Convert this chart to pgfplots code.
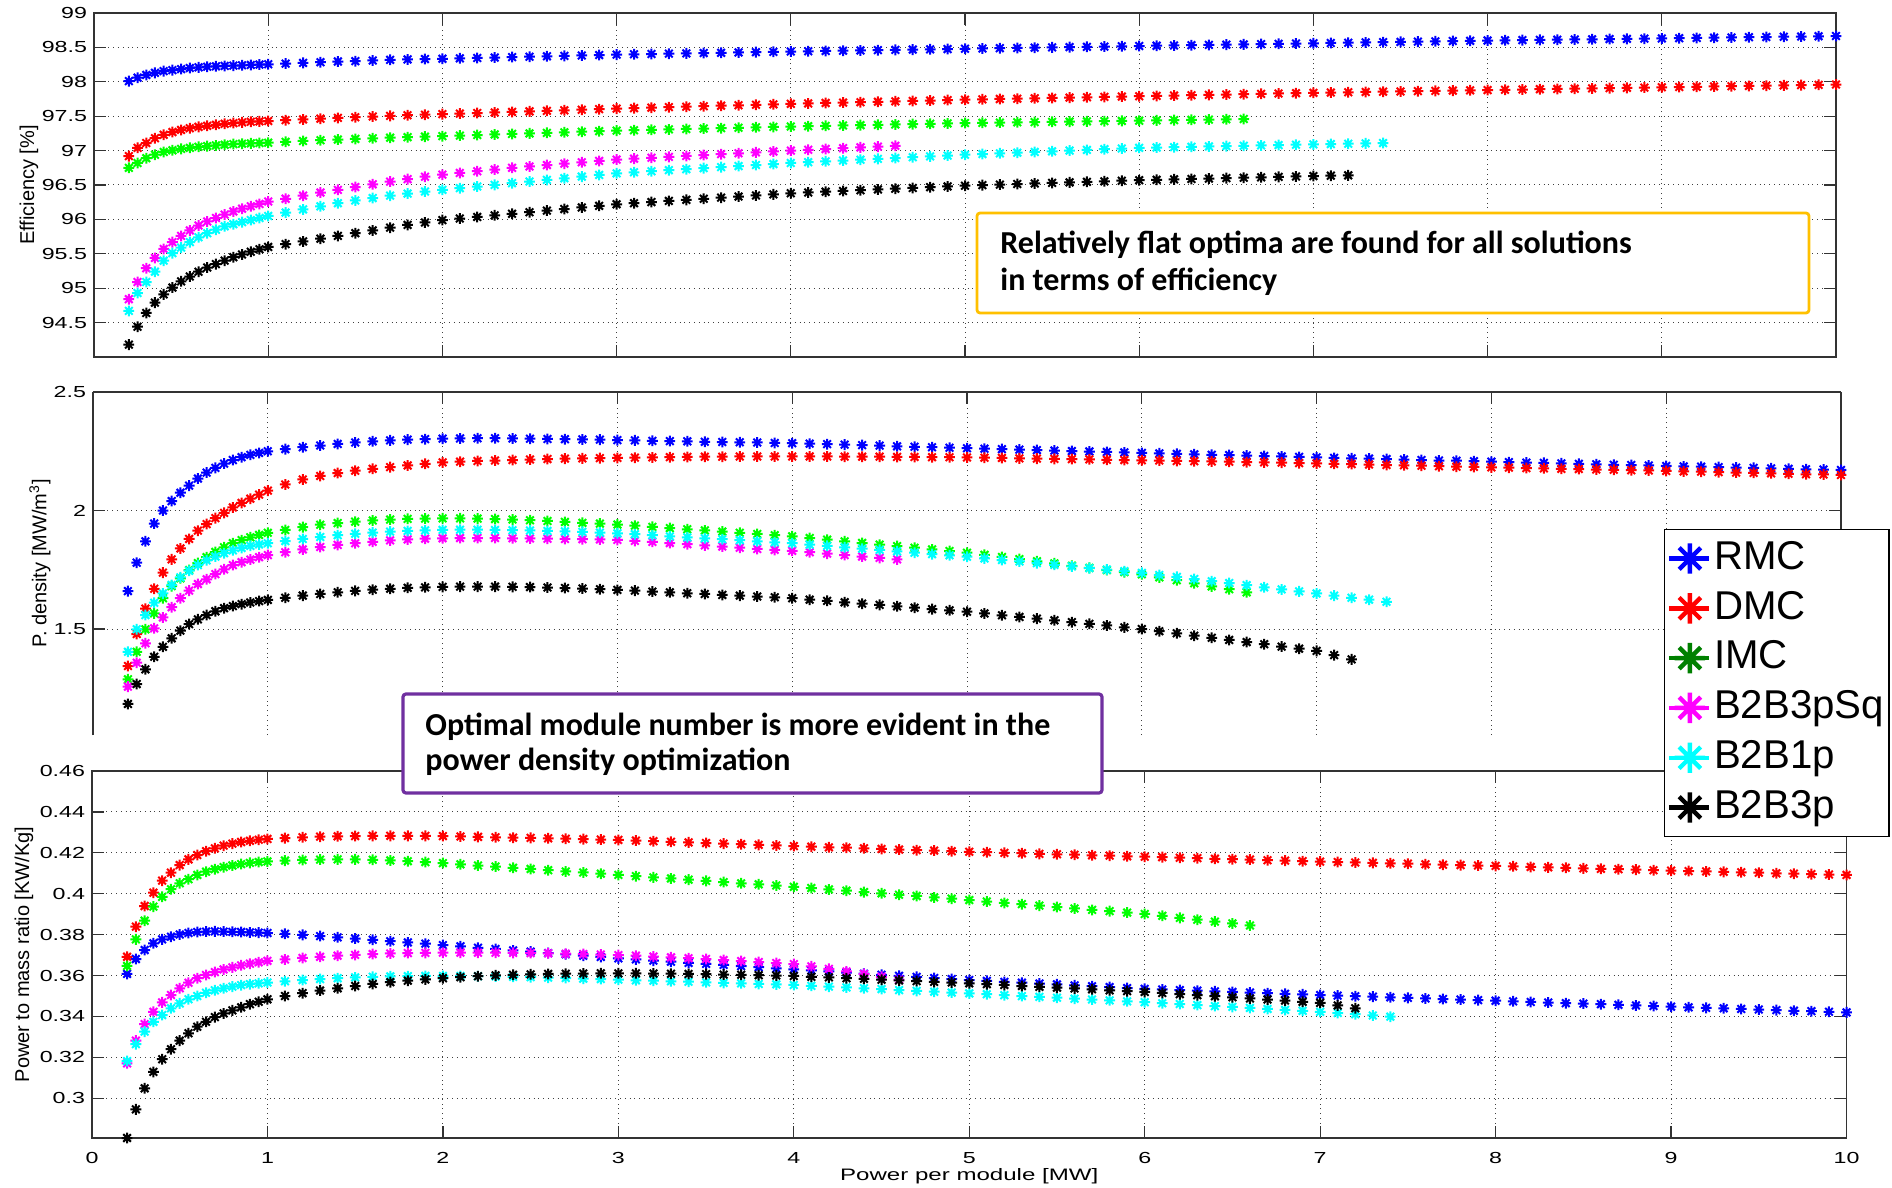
\documentclass[border=0pt]{standalone}
\usepackage{fontspec}
\setmainfont{Liberation Sans}
\newfontfamily\tickfont[FakeStretch=1.45]{Liberation Sans}
\newfontfamily\annfont{Carlito}
\usepackage{pgfplots}
\usepackage{pgfplotstable}
\pgfplotsset{compat=1.18}

\definecolor{annY}{RGB}{255,192,0}
\definecolor{annP}{RGB}{112,48,160}
\definecolor{dkgreen}{RGB}{0,128,0}
\definecolor{mblue}{RGB}{0,0,255}
\definecolor{mred}{RGB}{255,0,0}
\definecolor{mgreen}{RGB}{0,255,0}
\definecolor{mmag}{RGB}{255,0,255}
\definecolor{mcyan}{RGB}{0,255,255}

\pgfdeclareplotmark{ast8}{%
  \pgfpathmoveto{\pgfqpoint{0pt}{\pgfplotmarksize}}%
  \pgfpathlineto{\pgfqpoint{0pt}{-\pgfplotmarksize}}%
  \pgfpathmoveto{\pgfqpoint{\pgfplotmarksize}{0pt}}%
  \pgfpathlineto{\pgfqpoint{-\pgfplotmarksize}{0pt}}%
  \pgfpathmoveto{\pgfqpoint{0.707\pgfplotmarksize}{0.707\pgfplotmarksize}}%
  \pgfpathlineto{\pgfqpoint{-0.707\pgfplotmarksize}{-0.707\pgfplotmarksize}}%
  \pgfpathmoveto{\pgfqpoint{-0.707\pgfplotmarksize}{0.707\pgfplotmarksize}}%
  \pgfpathlineto{\pgfqpoint{0.707\pgfplotmarksize}{-0.707\pgfplotmarksize}}%
  \pgfusepathqstroke}

\pgfplotstableread{
x R D I S C K
0.20 98.010 96.920 96.750 94.840 94.670 94.180
0.25 98.060 97.040 96.820 95.090 94.930 94.440
0.30 98.100 97.110 96.890 95.290 95.090 94.640
0.35 98.130 97.180 96.940 95.440 95.240 94.790
0.40 98.155 97.230 96.980 95.570 95.400 94.910
0.45 98.170 97.270 97.005 95.670 95.510 95.010
0.50 98.185 97.300 97.025 95.760 95.590 95.100
0.55 98.200 97.325 97.040 95.840 95.670 95.170
0.60 98.210 97.345 97.055 95.910 95.740 95.240
0.65 98.220 97.360 97.065 95.970 95.800 95.300
0.70 98.225 97.375 97.075 96.020 95.850 95.350
0.75 98.230 97.390 97.085 96.070 95.900 95.400
0.80 98.235 97.400 97.095 96.115 95.930 95.450
0.85 98.240 97.410 97.100 96.155 95.960 95.490
0.90 98.245 97.420 97.105 96.190 95.990 95.530
0.95 98.250 97.425 97.110 96.225 96.020 95.565
1.00 98.255 97.430 97.115 96.260 96.050 95.600
1.1 98.265 97.442 97.128 96.300 96.100 95.640
1.2 98.275 97.453 97.140 96.345 96.145 95.680
1.3 98.285 97.464 97.151 96.390 96.190 95.720
1.4 98.295 97.475 97.161 96.430 96.235 95.760
1.5 98.300 97.485 97.170 96.470 96.275 95.800
1.6 98.310 97.495 97.179 96.510 96.310 95.840
1.7 98.320 97.505 97.187 96.550 96.345 95.880
1.8 98.325 97.514 97.195 96.585 96.375 95.920
1.9 98.330 97.522 97.203 96.620 96.405 95.955
2.0 98.335 97.530 97.210 96.650 96.430 95.990
2.1 98.341 97.538 97.218 96.675 96.454 96.013
2.2 98.347 97.546 97.226 96.700 96.478 96.036
2.3 98.353 97.554 97.234 96.725 96.502 96.059
2.4 98.359 97.562 97.242 96.750 96.526 96.082
2.5 98.365 97.570 97.250 96.770 96.550 96.105
2.6 98.371 97.578 97.258 96.790 96.574 96.128
2.7 98.377 97.586 97.266 96.810 96.598 96.151
2.8 98.383 97.594 97.274 96.830 96.622 96.174
2.9 98.389 97.602 97.282 96.850 96.646 96.197
3.0 98.395 97.610 97.290 96.870 96.670 96.220
3.1 98.400 97.617 97.296 96.883 96.685 96.236
3.2 98.404 97.624 97.302 96.896 96.700 96.252
3.3 98.409 97.631 97.308 96.909 96.715 96.268
3.4 98.413 97.638 97.314 96.922 96.730 96.284
3.5 98.418 97.645 97.320 96.935 96.745 96.300
3.6 98.422 97.652 97.326 96.948 96.760 96.316
3.7 98.427 97.659 97.332 96.961 96.775 96.332
3.8 98.431 97.666 97.338 96.974 96.790 96.348
3.9 98.436 97.673 97.344 96.987 96.805 96.364
4.0 98.440 97.680 97.350 97.000 96.820 96.380
4.1 98.444 97.686 97.355 97.012 96.832 96.391
4.2 98.448 97.692 97.360 97.023 96.844 96.402
4.3 98.452 97.698 97.365 97.035 96.856 96.413
4.4 98.456 97.704 97.370 97.047 96.868 96.424
4.5 98.460 97.710 97.375 97.058 96.880 96.435
4.6 98.464 97.716 97.380 97.070 96.892 96.446
4.7 98.468 97.722 97.385 nan 96.904 96.457
4.8 98.472 97.728 97.390 nan 96.916 96.468
4.9 98.476 97.734 97.395 nan 96.928 96.479
5.0 98.480 97.740 97.400 nan 96.940 96.490
5.1 98.484 97.745 97.404 nan 96.950 96.498
5.2 98.488 97.750 97.407 nan 96.960 96.506
5.3 98.492 97.755 97.411 nan 96.970 96.514
5.4 98.496 97.760 97.414 nan 96.980 96.522
5.5 98.500 97.765 97.418 nan 96.990 96.530
5.6 98.504 97.770 97.421 nan 97.000 96.538
5.7 98.508 97.775 97.425 nan 97.010 96.546
5.8 98.512 97.780 97.428 nan 97.020 96.554
5.9 98.516 97.785 97.432 nan 97.030 96.562
6.0 98.520 97.790 97.435 nan 97.040 96.570
6.1 98.524 97.795 97.439 nan 97.045 96.576
6.2 98.528 97.800 97.443 nan 97.050 96.582
6.3 98.532 97.805 97.447 nan 97.055 96.588
6.4 98.536 97.810 97.451 nan 97.060 96.594
6.5 98.540 97.815 97.455 nan 97.065 96.600
6.6 98.544 97.820 97.459 nan 97.070 96.606
6.7 98.548 97.825 nan nan 97.075 96.612
6.8 98.552 97.830 nan nan 97.080 96.618
6.9 98.556 97.835 nan nan 97.085 96.624
7.0 98.560 97.840 nan nan 97.090 96.630
7.1 98.564 97.844 nan nan 97.095 96.635
7.2 98.568 97.848 nan nan 97.100 96.640
7.3 98.572 97.852 nan nan 97.105 nan
7.4 98.576 97.856 nan nan 97.110 nan
7.5 98.580 97.860 nan nan nan nan
7.6 98.584 97.864 nan nan nan nan
7.7 98.588 97.868 nan nan nan nan
7.8 98.592 97.872 nan nan nan nan
7.9 98.596 97.876 nan nan nan nan
8.0 98.600 97.880 nan nan nan nan
8.1 98.603 97.884 nan nan nan nan
8.2 98.606 97.888 nan nan nan nan
8.3 98.609 97.892 nan nan nan nan
8.4 98.612 97.896 nan nan nan nan
8.5 98.615 97.900 nan nan nan nan
8.6 98.618 97.904 nan nan nan nan
8.7 98.621 97.908 nan nan nan nan
8.8 98.624 97.912 nan nan nan nan
8.9 98.627 97.916 nan nan nan nan
9.0 98.630 97.920 nan nan nan nan
9.1 98.634 97.924 nan nan nan nan
9.2 98.637 97.928 nan nan nan nan
9.3 98.641 97.932 nan nan nan nan
9.4 98.644 97.936 nan nan nan nan
9.5 98.648 97.940 nan nan nan nan
9.6 98.651 97.944 nan nan nan nan
9.7 98.655 97.948 nan nan nan nan
9.8 98.658 97.952 nan nan nan nan
9.9 98.662 97.956 nan nan nan nan
10.0 98.665 97.960 nan nan nan nan
}\teff

\pgfplotstableread{
x R D I S C K
0.20 1.660 1.344 1.288 1.257 1.404 1.184
0.25 1.780 1.479 1.404 1.358 1.499 1.268
0.30 1.870 1.586 1.499 1.440 1.559 1.330
0.35 1.945 1.670 1.566 1.503 1.611 1.383
0.40 2.000 1.738 1.630 1.549 1.650 1.425
0.45 2.040 1.794 1.681 1.592 1.686 1.461
0.50 2.075 1.840 1.714 1.630 1.718 1.493
0.55 2.105 1.880 1.749 1.662 1.746 1.521
0.60 2.135 1.915 1.778 1.690 1.770 1.541
0.65 2.160 1.943 1.803 1.710 1.790 1.559
0.70 2.180 1.968 1.825 1.732 1.806 1.575
0.75 2.198 1.990 1.845 1.752 1.820 1.588
0.80 2.213 2.013 1.862 1.770 1.832 1.597
0.85 2.225 2.032 1.875 1.782 1.842 1.605
0.90 2.235 2.050 1.887 1.793 1.851 1.612
0.95 2.243 2.067 1.897 1.803 1.857 1.618
1.00 2.250 2.084 1.906 1.812 1.862 1.623
1.1 2.259 2.110 1.918 1.824 1.871 1.632
1.2 2.267 2.131 1.930 1.836 1.880 1.641
1.3 2.274 2.146 1.940 1.846 1.888 1.648
1.4 2.281 2.158 1.947 1.855 1.896 1.655
1.5 2.287 2.168 1.953 1.862 1.902 1.661
1.6 2.292 2.176 1.958 1.868 1.907 1.666
1.7 2.296 2.183 1.962 1.874 1.911 1.670
1.8 2.299 2.190 1.965 1.878 1.914 1.674
1.9 2.301 2.197 1.966 1.881 1.916 1.676
2.0 2.303 2.203 1.967 1.883 1.918 1.678
2.1 2.304 2.206 1.967 1.884 1.919 1.679
2.2 2.305 2.209 1.966 1.884 1.919 1.679
2.3 2.305 2.211 1.964 1.884 1.918 1.679
2.4 2.304 2.213 1.962 1.883 1.917 1.678
2.5 2.303 2.215 1.959 1.882 1.916 1.677
2.6 2.302 2.217 1.956 1.881 1.914 1.675
2.7 2.301 2.219 1.952 1.880 1.912 1.673
2.8 2.300 2.220 1.948 1.879 1.910 1.671
2.9 2.299 2.221 1.945 1.878 1.907 1.668
3.0 2.297 2.222 1.941 1.876 1.904 1.665
3.1 2.296 2.223 1.936 1.872 1.900 1.662
3.2 2.294 2.224 1.931 1.868 1.896 1.658
3.3 2.293 2.225 1.926 1.863 1.891 1.655
3.4 2.292 2.226 1.921 1.858 1.887 1.651
3.5 2.290 2.227 1.916 1.853 1.883 1.648
3.6 2.289 2.227 1.911 1.848 1.879 1.644
3.7 2.288 2.228 1.906 1.843 1.875 1.641
3.8 2.287 2.228 1.901 1.838 1.870 1.637
3.9 2.285 2.228 1.896 1.834 1.866 1.634
4.0 2.284 2.228 1.891 1.830 1.862 1.630
4.1 2.282 2.228 1.884 1.824 1.856 1.624
4.2 2.280 2.228 1.877 1.818 1.851 1.619
4.3 2.278 2.227 1.870 1.812 1.845 1.613
4.4 2.276 2.227 1.863 1.806 1.839 1.607
4.5 2.274 2.227 1.856 1.800 1.834 1.602
4.6 2.271 2.226 1.850 1.794 1.828 1.596
4.7 2.269 2.226 1.843 nan 1.822 1.590
4.8 2.267 2.225 1.836 nan 1.816 1.584
4.9 2.265 2.225 1.829 nan 1.811 1.579
5.0 2.263 2.224 1.822 nan 1.805 1.573
5.1 2.261 2.223 1.813 nan 1.798 1.566
5.2 2.259 2.222 1.804 nan 1.791 1.558
5.3 2.257 2.220 1.795 nan 1.785 1.551
5.4 2.255 2.219 1.786 nan 1.778 1.544
5.5 2.253 2.218 1.777 nan 1.771 1.537
5.6 2.251 2.217 1.767 nan 1.764 1.529
5.7 2.249 2.216 1.758 nan 1.757 1.522
5.8 2.247 2.214 1.749 nan 1.751 1.515
5.9 2.245 2.213 1.740 nan 1.744 1.507
6.0 2.243 2.212 1.731 nan 1.737 1.500
6.1 2.241 2.211 1.718 nan 1.728 1.491
6.2 2.239 2.209 1.706 nan 1.720 1.482
6.3 2.237 2.208 1.693 nan 1.711 1.472
6.4 2.235 2.207 1.680 nan 1.702 1.463
6.5 2.234 2.206 1.668 nan 1.694 1.454
6.6 2.232 2.204 1.655 nan 1.685 1.445
6.7 2.230 2.203 nan nan 1.676 1.436
6.8 2.228 2.202 nan nan 1.667 1.426
6.9 2.226 2.200 nan nan 1.659 1.417
7.0 2.224 2.199 nan nan 1.650 1.408
7.1 2.222 2.197 nan nan 1.641 1.390
7.2 2.220 2.196 nan nan 1.632 1.372
7.3 2.219 2.194 nan nan 1.624 nan
7.4 2.217 2.192 nan nan 1.615 nan
7.5 2.215 2.191 nan nan nan nan
7.6 2.213 2.189 nan nan nan nan
7.7 2.211 2.187 nan nan nan nan
7.8 2.210 2.185 nan nan nan nan
7.9 2.208 2.184 nan nan nan nan
8.0 2.206 2.182 nan nan nan nan
8.1 2.204 2.181 nan nan nan nan
8.2 2.202 2.179 nan nan nan nan
8.3 2.201 2.178 nan nan nan nan
8.4 2.199 2.176 nan nan nan nan
8.5 2.197 2.175 nan nan nan nan
8.6 2.195 2.173 nan nan nan nan
8.7 2.193 2.172 nan nan nan nan
8.8 2.192 2.170 nan nan nan nan
8.9 2.190 2.169 nan nan nan nan
9.0 2.188 2.167 nan nan nan nan
9.1 2.186 2.165 nan nan nan nan
9.2 2.185 2.164 nan nan nan nan
9.3 2.183 2.162 nan nan nan nan
9.4 2.181 2.160 nan nan nan nan
9.5 2.180 2.159 nan nan nan nan
9.6 2.178 2.157 nan nan nan nan
9.7 2.176 2.155 nan nan nan nan
9.8 2.174 2.153 nan nan nan nan
9.9 2.173 2.152 nan nan nan nan
10.0 2.171 2.150 nan nan nan nan
}\tpd

\pgfplotstableread{
x R D I S C K
0.20 0.3608 0.3692 0.3647 0.3171 0.3182 0.2806
0.25 0.3681 0.3839 0.3777 0.3282 0.3265 0.2946
0.30 0.3725 0.3940 0.3868 0.3363 0.3326 0.3049
0.35 0.3758 0.4005 0.3937 0.3423 0.3374 0.3129
0.40 0.3777 0.4064 0.3985 0.3469 0.3407 0.3191
0.45 0.3790 0.4103 0.4022 0.3505 0.3440 0.3240
0.50 0.3801 0.4140 0.4051 0.3538 0.3464 0.3282
0.55 0.3808 0.4168 0.4071 0.3565 0.3484 0.3318
0.60 0.3813 0.4189 0.4092 0.3587 0.3500 0.3350
0.65 0.3815 0.4208 0.4108 0.3603 0.3516 0.3374
0.70 0.3816 0.4222 0.4120 0.3617 0.3528 0.3397
0.75 0.3815 0.4235 0.4130 0.3630 0.3538 0.3415
0.80 0.3814 0.4245 0.4138 0.3640 0.3546 0.3430
0.85 0.3813 0.4253 0.4145 0.3650 0.3553 0.3445
0.90 0.3811 0.4259 0.4151 0.3658 0.3558 0.3460
0.95 0.3810 0.4264 0.4155 0.3665 0.3562 0.3472
1.00 0.3808 0.4268 0.4158 0.3672 0.3566 0.3484
1.1 0.3804 0.4272 0.4162 0.3679 0.3572 0.3500
1.2 0.3799 0.4276 0.4165 0.3686 0.3578 0.3514
1.3 0.3793 0.4279 0.4167 0.3692 0.3583 0.3527
1.4 0.3787 0.4281 0.4168 0.3697 0.3587 0.3538
1.5 0.3781 0.4282 0.4168 0.3701 0.3591 0.3549
1.6 0.3775 0.4283 0.4166 0.3705 0.3594 0.3559
1.7 0.3768 0.4283 0.4163 0.3708 0.3596 0.3568
1.8 0.3762 0.4283 0.4159 0.3710 0.3597 0.3575
1.9 0.3756 0.4283 0.4155 0.3711 0.3598 0.3581
2.0 0.3749 0.4282 0.4150 0.3712 0.3598 0.3587
2.1 0.3743 0.4280 0.4144 0.3712 0.3598 0.3592
2.2 0.3736 0.4278 0.4138 0.3712 0.3597 0.3597
2.3 0.3730 0.4276 0.4133 0.3712 0.3596 0.3601
2.4 0.3723 0.4274 0.4127 0.3711 0.3594 0.3604
2.5 0.3717 0.4273 0.4121 0.3710 0.3592 0.3606
2.6 0.3710 0.4271 0.4115 0.3709 0.3590 0.3608
2.7 0.3704 0.4269 0.4109 0.3707 0.3588 0.3609
2.8 0.3697 0.4267 0.4104 0.3705 0.3585 0.3610
2.9 0.3691 0.4265 0.4098 0.3703 0.3583 0.3611
3.0 0.3684 0.4263 0.4092 0.3700 0.3580 0.3611
3.1 0.3679 0.4260 0.4086 0.3697 0.3577 0.3611
3.2 0.3673 0.4257 0.4080 0.3693 0.3575 0.3610
3.3 0.3668 0.4254 0.4075 0.3689 0.3572 0.3609
3.4 0.3662 0.4251 0.4069 0.3685 0.3570 0.3608
3.5 0.3657 0.4248 0.4063 0.3681 0.3567 0.3607
3.6 0.3652 0.4245 0.4057 0.3676 0.3564 0.3605
3.7 0.3646 0.4242 0.4051 0.3671 0.3562 0.3604
3.8 0.3641 0.4239 0.4046 0.3666 0.3559 0.3602
3.9 0.3635 0.4236 0.4040 0.3661 0.3557 0.3600
4.0 0.3630 0.4233 0.4034 0.3656 0.3554 0.3598
4.1 0.3625 0.4230 0.4028 0.3645 0.3550 0.3594
4.2 0.3620 0.4227 0.4021 0.3633 0.3546 0.3591
4.3 0.3614 0.4225 0.4015 0.3620 0.3542 0.3587
4.4 0.3609 0.4222 0.4008 0.3607 0.3538 0.3584
4.5 0.3604 0.4219 0.4002 0.3594 0.3534 0.3580
4.6 0.3599 0.4216 0.3995 0.3580 0.3529 0.3576
4.7 0.3594 0.4213 0.3989 nan 0.3525 0.3573
4.8 0.3588 0.4211 0.3982 nan 0.3521 0.3569
4.9 0.3583 0.4208 0.3976 nan 0.3517 0.3566
5.0 0.3578 0.4205 0.3969 nan 0.3513 0.3562
5.1 0.3574 0.4203 0.3962 nan 0.3509 0.3558
5.2 0.3569 0.4200 0.3955 nan 0.3504 0.3554
5.3 0.3565 0.4198 0.3949 nan 0.3500 0.3549
5.4 0.3561 0.4195 0.3942 nan 0.3496 0.3545
5.5 0.3557 0.4193 0.3935 nan 0.3492 0.3541
5.6 0.3552 0.4191 0.3928 nan 0.3487 0.3537
5.7 0.3548 0.4188 0.3921 nan 0.3483 0.3533
5.8 0.3544 0.4186 0.3915 nan 0.3479 0.3528
5.9 0.3539 0.4183 0.3908 nan 0.3474 0.3524
6.0 0.3535 0.4181 0.3901 nan 0.3470 0.3520
6.1 0.3532 0.4179 0.3892 nan 0.3465 0.3515
6.2 0.3529 0.4176 0.3882 nan 0.3461 0.3509
6.3 0.3526 0.4174 0.3873 nan 0.3456 0.3504
6.4 0.3523 0.4171 0.3864 nan 0.3451 0.3499
6.5 0.3520 0.4169 0.3855 nan 0.3447 0.3494
6.6 0.3517 0.4167 0.3845 nan 0.3442 0.3488
6.7 0.3514 0.4164 nan nan 0.3437 0.3483
6.8 0.3511 0.4162 nan nan 0.3432 0.3478
6.9 0.3508 0.4159 nan nan 0.3428 0.3472
7.0 0.3505 0.4157 nan nan 0.3423 0.3467
7.1 0.3502 0.4155 nan nan 0.3417 0.3454
7.2 0.3499 0.4153 nan nan 0.3411 0.3440
7.3 0.3497 0.4151 nan nan 0.3405 nan
7.4 0.3494 0.4149 nan nan 0.3399 nan
7.5 0.3491 0.4147 nan nan nan nan
7.6 0.3488 0.4144 nan nan nan nan
7.7 0.3485 0.4142 nan nan nan nan
7.8 0.3483 0.4140 nan nan nan nan
7.9 0.3480 0.4138 nan nan nan nan
8.0 0.3477 0.4136 nan nan nan nan
8.1 0.3474 0.4134 nan nan nan nan
8.2 0.3471 0.4131 nan nan nan nan
8.3 0.3468 0.4129 nan nan nan nan
8.4 0.3465 0.4127 nan nan nan nan
8.5 0.3463 0.4124 nan nan nan nan
8.6 0.3460 0.4122 nan nan nan nan
8.7 0.3457 0.4120 nan nan nan nan
8.8 0.3454 0.4118 nan nan nan nan
8.9 0.3451 0.4115 nan nan nan nan
9.0 0.3448 0.4113 nan nan nan nan
9.1 0.3445 0.4111 nan nan nan nan
9.2 0.3442 0.4109 nan nan nan nan
9.3 0.3440 0.4107 nan nan nan nan
9.4 0.3437 0.4105 nan nan nan nan
9.5 0.3434 0.4103 nan nan nan nan
9.6 0.3431 0.4100 nan nan nan nan
9.7 0.3428 0.4098 nan nan nan nan
9.8 0.3426 0.4096 nan nan nan nan
9.9 0.3423 0.4094 nan nan nan nan
10.0 0.3420 0.4092 nan nan nan nan
}\tpm

\pgfplotsset{
  panel/.style={
    scale only axis,
    xmin=0, xmax=10, xtick={0,1,...,10},
    grid=major,
    major grid style={dotted, black!75, line width=0.5pt},
    axis line style={black!80, line width=0.6pt},
    major tick style={black!80, line width=0.6pt},
    major tick length=6pt,
    tick align=inside,
    tick label style={font={\tickfont\fontsize{8}{9}\selectfont}},
    /pgf/number format/assume math mode=true,
    /pgf/number format/fixed,
    scaled ticks=false,
    ylabel style={font={\fontsize{10}{11}\selectfont}, anchor=center},
  },
  pts/.style={only marks, mark=ast8, mark size=2.7pt, line width=1.0pt, forget plot},
  lgd/.style={only marks, mark=ast8, mark size=7.6pt, line width=2.2pt},
}

\begin{document}
\begin{tikzpicture}
\useasboundingbox (0pt,0pt) rectangle (946pt,-594pt);

% ---------- top: efficiency ----------
\begin{axis}[panel,
  at={(47pt,-6.5pt)}, anchor=north west,
  width=871pt, height=172pt,
  ymin=94, ymax=99,
  ytick={94.5,95,95.5,96,96.5,97,97.5,98,98.5,99},
  xticklabels={},
  ylabel={Efficiency [\%]},
  ylabel style={at={(rel axis cs:-0.0373,0.5)}},
]
\addplot[pts, mblue]  table[x=x, y=R] {\teff};
\addplot[pts, mred]   table[x=x, y=D] {\teff};
\addplot[pts, mgreen] table[x=x, y=I] {\teff};
\addplot[pts, mmag]   table[x=x, y=S] {\teff};
\addplot[pts, mcyan]  table[x=x, y=C] {\teff};
\addplot[pts, black]  table[x=x, y=K] {\teff};
\end{axis}

% ---------- bottom: power to mass ----------
\begin{axis}[panel,
  at={(46pt,-385.5pt)}, anchor=north west,
  width=877.25pt, height=183.5pt,
  ymin=0.2806, ymax=0.46,
  ytick={0.3,0.32,0.34,0.36,0.38,0.4,0.42,0.44,0.46},
  xticklabel style={yshift=-3.8pt},
  ylabel={Power to mass ratio [KW/Kg]},
  ylabel style={at={(rel axis cs:-0.0388,0.5)}},
  xlabel={Power per module [MW]},
  xlabel style={at={(rel axis cs:0.5,-0.1035)}, anchor=center, font={\tickfont\fontsize{8.3}{9}\selectfont}},
]
\addplot[pts, mblue]  table[x=x, y=R] {\tpm};
\addplot[pts, mred]   table[x=x, y=D] {\tpm};
\addplot[pts, mgreen] table[x=x, y=I] {\tpm};
\addplot[pts, mmag]   table[x=x, y=S] {\tpm};
\addplot[pts, mcyan]  table[x=x, y=C] {\tpm};
\addplot[pts, black]  table[x=x, y=K] {\tpm};
\end{axis}

% ---------- middle: power density ----------
\begin{axis}[panel,
  at={(46.5pt,-196pt)}, anchor=north west,
  width=874pt, height=171.5pt,
  axis x line*=top, axis y line*=box,
  xtick align=inside, ytick align=inside,
  ymin=1.053, ymax=2.5,
  ytick={1.5,2,2.5},
  xticklabels={},
  ylabel={P. density [MW/m\textsuperscript{3}]},
  ylabel style={at={(rel axis cs:-0.0303,0.5)}},
  legend cell align=left,
  legend image code/.code={\path (0pt,0pt) -- (20pt,0pt); \draw[#1] plot coordinates {(10.5pt,0pt)};},
  legend style={at={(rel axis cs:0.8988,0.6006)}, anchor=north west,
    draw=black, line width=0.6pt, fill=white,
    font={\fontsize{20.1}{21}\selectfont},
    inner xsep=1pt, inner ysep=2pt, row sep=0pt,
    nodes={inner xsep=1.5pt, inner ysep=3.2pt, text height=14.6pt, text depth=3.9pt}},
]
\addlegendimage{lgd, mblue}
\addlegendentry{RMC}
\addlegendimage{lgd, mred}
\addlegendentry{DMC}
\addlegendimage{lgd, dkgreen}
\addlegendentry{IMC}
\addlegendimage{lgd, mmag}
\addlegendentry{B2B3pSq}
\addlegendimage{lgd, mcyan}
\addlegendentry{B2B1p}
\addlegendimage{lgd, black}
\addlegendentry{B2B3p}
\addplot[pts, mblue]  table[x=x, y=R] {\tpd};
\addplot[pts, mred]   table[x=x, y=D] {\tpd};
\addplot[pts, mgreen] table[x=x, y=I] {\tpd};
\addplot[pts, mmag]   table[x=x, y=S] {\tpd};
\addplot[pts, mcyan]  table[x=x, y=C] {\tpd};
\addplot[pts, black]  table[x=x, y=K] {\tpd};
\end{axis}

% ---------- annotation boxes ----------
\draw[annY, line width=1.4pt, fill=white, rounded corners=1.5pt] (488.5pt,-106.5pt) rectangle (904.5pt,-156.5pt);
\node[anchor=base west, inner sep=0pt, font={\annfont\bfseries\fontsize{16}{18}\selectfont}] at (500pt,-126.5pt) {Relatively flat optima are found for all solutions};
\node[anchor=base west, inner sep=0pt, font={\annfont\bfseries\fontsize{16}{18}\selectfont}] at (500pt,-145pt) {in terms of efficiency};

\draw[annP, line width=1.6pt, fill=white, rounded corners=1.5pt] (201.5pt,-347pt) rectangle (551pt,-396.5pt);
\node[anchor=base west, inner sep=0pt, font={\annfont\bfseries\fontsize{16}{18}\selectfont}] at (212.5pt,-367.5pt) {Optimal module number is more evident in the};
\node[anchor=base west, inner sep=0pt, font={\annfont\bfseries\fontsize{16}{18}\selectfont}] at (212.5pt,-385pt) {power density optimization};
\end{tikzpicture}
\end{document}
